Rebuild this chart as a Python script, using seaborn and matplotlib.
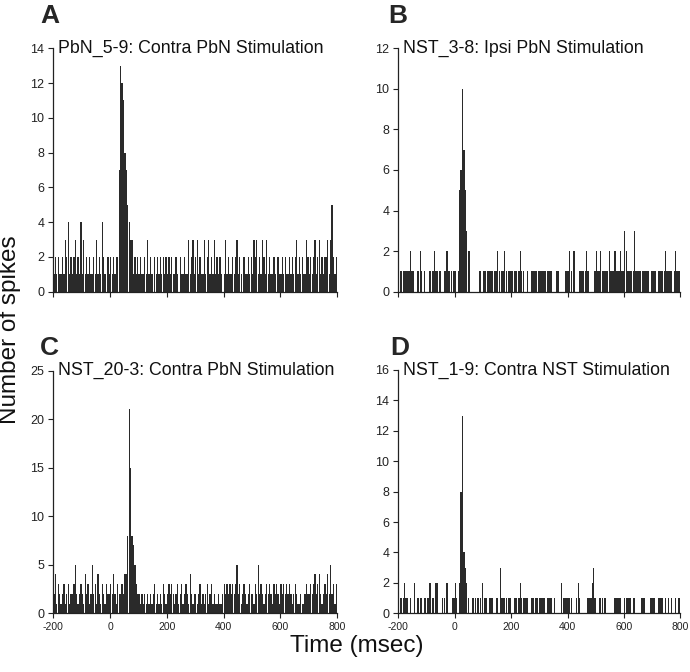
import numpy as np
import pandas as pd
import matplotlib
matplotlib.use("Agg")
import matplotlib.pyplot as plt
import seaborn as sns

sns.set_style("ticks")
plt.rcParams["font.family"] = ["Liberation Sans", "DejaVu Sans"]
plt.rcParams["axes.unicode_minus"] = False

# spike counts per 5 ms bin from -200 to 800 ms
# one character per bin, base 36 (so 'a' = 10, 'd' = 13, 'l' = 21)
bin_width = 5
bin_starts = np.arange(-200, 800, bin_width)

counts_a = ("12121121324121231214" "13121211213121421021" "2121227dcb8754331212"
            "12112131210212121212" "12121121021121131231" "23121131231213121210"
            "13121121231210211212" "13231213213121121021" "12121121212312121132"
            "12123123121223135212")
counts_b = ("01111111211001121010" "00101211010011211101" "10156a75322000000110"
            "11011110112101121011" "10110121100100111101" "11111111100011000011"
            "12102000111112100001" "21121111121112111211" "32111113111101111101"
            "11101111121111012111")
counts_c = ("24132123123122352123" "21423125231421321322" "3242132232448lf87532"
            "21212121212312121321" "23232123123123214212" "21231212312312112112"
            "32323232352312321232" "21325232123232132321" "32323232123211211232"
            "23234234212324252313")
counts_d = ("01112110100201111011" "11201022000110200011" "21028d43210011101012"
            "01101110011031111011" "00110121111100110110" "11110111101000020111"
            "11100012100000111231" "00111010000001111100" "11111011000011100011"
            "11001111010101001011")

letters = ["A", "B", "C", "D"]
titles = ["PbN_5-9: Contra PbN Stimulation", "NST_3-8: Ipsi PbN Stimulation",
          "NST_20-3: Contra PbN Stimulation", "NST_1-9: Contra NST Stimulation"]
y_max = [14, 12, 25, 16]
y_step = [2, 2, 5, 2]
x_ticks = [-200, 0, 200, 400, 600, 800]


def decode(s):
    return [int(c, 36) for c in s]


fig = plt.figure(figsize=(6.9, 6.72), dpi=100)
W, H = 690, 672
# axes boxes in pixels: left, top, right, bottom
boxes = [(53.3, 48.3, 337.0, 291.7), (398.3, 48.3, 680.5, 291.7),
         (53.3, 370.5, 337.0, 613.3), (398.3, 370.0, 680.5, 613.3)]
letter_pos = [(40, 23), (388, 23), (40, 355), (390, 355)]

for i, s in enumerate([counts_a, counts_b, counts_c, counts_d]):
    l, t, r, b = boxes[i]
    ax = fig.add_axes([l / W, 1 - b / H, (r - l) / W, (b - t) / H])
    df = pd.DataFrame({"time": bin_starts + bin_width / 2, "spikes": decode(s)})
    sns.histplot(data=df, x="time", weights="spikes", binwidth=bin_width,
                 binrange=(-200, 800), shrink=0.9, color="#2a2a2a", alpha=1,
                 linewidth=0, edgecolor="none", ax=ax)
    ax.set_xlim(-200, 800)
    ax.set_ylim(0, y_max[i])
    ax.set_yticks(np.arange(0, y_max[i] + 1, y_step[i]))
    ax.set_xticks(x_ticks)
    if i < 2:
        ax.set_xticklabels([])
    ax.set_xlabel("")
    ax.set_ylabel("")
    sns.despine(ax=ax)
    for sp in ["left", "bottom"]:
        ax.spines[sp].set_linewidth(0.9)
        ax.spines[sp].set_color("#222222")
    ax.tick_params(axis="both", length=3.5, width=0.8, colors="#222222", pad=3)
    ax.tick_params(axis="y", labelsize=9)
    ax.tick_params(axis="x", labelsize=7.5)
    ax.text(0.015, 1.0, titles[i], transform=ax.transAxes, ha="left",
            va="center", fontsize=12.8, color="#111111")
    lx, ly = letter_pos[i]
    fig.text(lx / W, 1 - ly / H, letters[i], fontsize=19, fontweight="bold",
             ha="left", va="baseline")

fig.text(10 / W, 1 - 330 / H, "Number of spikes", rotation=90, ha="center",
         va="center", fontsize=17.5, color="#111111")
fig.text(357 / W, 1 - 646 / H, "Time (msec)", ha="center", va="center",
         fontsize=17.5, color="#111111")

fig.savefig("out.png", dpi=100)
